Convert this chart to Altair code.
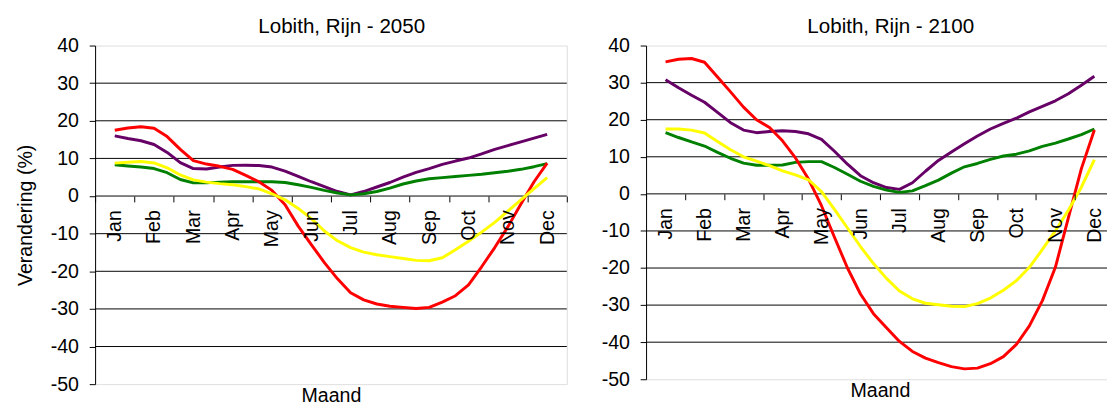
import altair as alt
import pandas as pd

FONT = "Liberation Sans"

months = ["Jan", "Feb", "Mar", "Apr", "May", "Jun", "Jul", "Aug", "Sep", "Oct", "Nov", "Dec"]

# sample positions along the category axis (1 = Jan ... 12 = Dec)
pos = [1.0, 1.333, 1.667, 2.0, 2.333, 2.667, 3.0, 3.333, 3.667, 4.0, 4.333, 4.667,
       5.0, 5.333, 5.667, 6.0, 6.333, 6.667, 7.0, 7.333, 7.667, 8.0, 8.333, 8.667,
       9.0, 9.333, 9.667, 10.0, 10.333, 10.667, 11.0, 11.333, 11.667, 12.0]

# ---- Lobith, Rijn - 2050 ----
red_2050 = [17.5, 18.1, 18.4, 18.0, 15.8, 12.4, 9.4, 8.5, 7.9, 7.1, 5.5, 3.8,
            1.5, -2.3, -8.0, -12.9, -17.7, -22.0, -25.7, -27.6, -28.7, -29.3, -29.6, -29.9,
            -29.6, -28.2, -26.5, -23.6, -18.8, -13.7, -8.2, -2.1, 3.8, 8.75]
purple_2050 = [16.0, 15.3, 14.7, 13.7, 11.6, 8.9, 7.3, 7.2, 7.7, 8.15, 8.2, 8.1,
               7.7, 6.6, 5.2, 3.8, 2.5, 1.2, 0.3, 1.2, 2.4, 3.6, 5.0, 6.3,
               7.3, 8.4, 9.3, 10.1, 11.2, 12.4, 13.4, 14.4, 15.4, 16.4]
green_2050 = [8.3, 8.0, 7.7, 7.3, 6.2, 4.4, 3.5, 3.5, 3.7, 3.8, 3.8, 3.8,
              3.8, 3.6, 3.0, 2.3, 1.5, 0.8, 0.3, 0.6, 1.2, 2.1, 3.2, 4.0,
              4.6, 4.9, 5.2, 5.5, 5.8, 6.2, 6.6, 7.1, 7.8, 8.6]
yellow_2050 = [8.75, 9.0, 9.2, 8.8, 7.5, 5.6, 4.3, 3.7, 3.3, 3.0, 2.5, 1.9,
               0.6, -1.0, -3.3, -6.0, -9.3, -11.9, -13.7, -14.9, -15.6, -16.1, -16.6, -17.1,
               -17.2, -16.4, -14.3, -12.0, -9.6, -7.0, -4.0, -1.0, 2.0, 4.9]

# ---- Lobith, Rijn - 2100 ----
red_2100 = [35.6, 36.3, 36.5, 35.5, 31.5, 27.5, 23.4, 20.0, 17.9, 14.3, 9.7, 4.0,
            -3.2, -11.7, -20.0, -27.0, -32.3, -36.1, -39.8, -42.5, -44.3, -45.5, -46.6, -47.2,
            -47.0, -45.8, -43.9, -40.6, -35.6, -28.8, -19.8, -6.5, 6.8, 17.2]
purple_2100 = [30.8, 28.6, 26.6, 24.7, 22.0, 19.2, 17.2, 16.5, 16.8, 17.0, 16.8, 16.2,
               14.7, 11.5, 8.0, 4.9, 3.0, 1.7, 1.2, 3.0, 6.1, 9.0, 11.3, 13.5,
               15.6, 17.5, 19.0, 20.4, 22.1, 23.6, 25.1, 27.0, 29.3, 31.7]
green_2100 = [16.5, 15.2, 14.0, 12.9, 11.2, 9.6, 8.3, 7.7, 7.7, 7.8, 8.5, 8.7,
              8.7, 7.1, 5.3, 3.4, 2.0, 1.0, 0.4, 0.8, 2.2, 3.7, 5.6, 7.3,
              8.2, 9.3, 10.2, 10.7, 11.6, 12.8, 13.7, 14.8, 16.0, 17.5]
yellow_2100 = [17.5, 17.5, 17.2, 16.4, 14.1, 11.9, 10.0, 8.8, 7.6, 6.2, 5.1, 3.8,
               0.6, -4.2, -9.2, -14.2, -18.8, -22.8, -26.2, -28.3, -29.5, -29.9, -30.3, -30.4,
               -29.6, -28.1, -26.0, -23.4, -19.8, -15.0, -10.0, -4.4, 1.8, 9.2]

series_order = ["W", "G", "W+", "G+"]          # drawing order (bottom to top)
series_colors = ["#660066", "#008000", "#FF0000", "#FFFF00"]

y_domain = [-50, 40]
y_ticks = [-50, -40, -30, -20, -10, 0, 10, 20, 30, 40]
grid_values = [-40, -30, -20, -10, 0, 10, 20, 30]


def panel(title, values, w, h, ytitle):
    rows = []
    for name, vals in zip(series_order, values):
        for p, v in zip(pos, vals):
            rows.append({"series": name, "pos": p, "value": v})
    df = pd.DataFrame(rows)

    yaxis_kw = dict(
        values=y_ticks, grid=False, labelFont=FONT, labelFontSize=20, labelColor="black",
        labelPadding=11, tickSize=6, tickColor="black", domainColor="black",
        labelFlush=False, labelExpr="'' + datum.value",
        titleFont=FONT, titleFontSize=20, titleFontWeight="normal",
        titleColor="black", titlePadding=15,
    )
    if ytitle:
        yaxis = alt.Axis(title=ytitle, **yaxis_kw)
    else:
        yaxis = alt.Axis(title=None, **yaxis_kw)
    yscale = alt.Scale(domain=y_domain, nice=False, zero=False)

    grid = alt.Chart(pd.DataFrame({"v": grid_values})).mark_rule(
        color="black", strokeWidth=1
    ).encode(y=alt.Y("v:Q", scale=yscale, axis=yaxis))

    xq = alt.X(
        "pos:Q",
        scale=alt.Scale(domain=[0.5, 12.5], nice=False, zero=False),
        axis=alt.Axis(title="Maand", labels=False, ticks=False, domain=False, grid=False,
                      orient="bottom", titleFont=FONT, titleFontSize=20,
                      titleFontWeight="normal", titleColor="black", titlePadding=2),
    )
    lines = []
    for name, col in zip(series_order, series_colors):
        lines.append(
            alt.Chart(df).transform_filter(alt.datum.series == name)
            .mark_line(color=col, strokeWidth=3, strokeJoin="round")
            .encode(x=xq, y=alt.Y("value:Q", scale=yscale, axis=yaxis), order="pos:Q")
        )
    data_layer = alt.layer(grid, *lines)

    zero_offset = -h * (0 - y_domain[0]) / (y_domain[1] - y_domain[0])
    month_axis = alt.Chart(pd.DataFrame({"month": months})).mark_rect(opacity=0).encode(
        x=alt.X(
            "month:N", sort=months,
            scale=alt.Scale(type="band", paddingInner=0, paddingOuter=0),
            axis=alt.Axis(orient="bottom", offset=zero_offset, tickBand="extent",
                          tickSize=6, tickColor="black", domain=False, grid=False,
                          labelAngle=270, labelFont=FONT, labelFontSize=20,
                          labelColor="black", labelPadding=8, title=None,
                          labelOverlap=False),
        )
    )

    return alt.layer(data_layer, month_axis).resolve_scale(x="independent").properties(
        width=w, height=h,
        title=alt.TitleParams(title, font=FONT, fontSize=21, fontWeight="normal",
                              color="black", anchor="middle", frame="group",
                              offset=-1, dx=11),
    )


left = panel("Lobith, Rijn - 2050",
             [purple_2050, green_2050, red_2050, yellow_2050], 482, 346, "Verandering (%)")
right = panel("Lobith, Rijn - 2100",
              [purple_2100, green_2100, red_2100, yellow_2100], 478, 341, None)

# the reference picture is cropped on the right and at the bottom
chart = alt.hconcat(left, right, spacing=33).properties(
    padding={"top": 3, "left": 7, "right": -8, "bottom": -3}
).configure_view(
    stroke="#808080", strokeWidth=2
).configure(background="white")

chart.save("out.html", embed_options={"renderer": "svg", "actions": False})
